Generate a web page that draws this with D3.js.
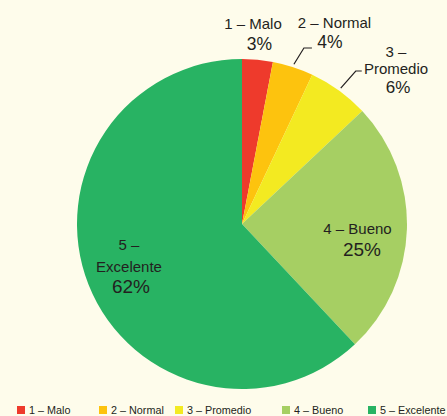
<!DOCTYPE html>
<html><head><meta charset="utf-8">
<script src="https://cdn.jsdelivr.net/npm/d3@7/dist/d3.min.js"></script>
<style>html,body{margin:0;padding:0;background:#FEFCEB;}svg{display:block;}</style>
</head><body>
<svg id="c" width="447" height="416"></svg>
<script>
const categories = ["1 – Malo", "2 – Normal", "3 – Promedio", "4 – Bueno", "5 – Excelente"];
const values = [3, 4, 6, 25, 62];
const colors = ["#EE3A2C", "#FDC30E", "#F3EA21", "#A6CF63", "#28B363"];
const labelLines = [["1 – Malo"], ["2 – Normal"], ["3 –", "Promedio"], ["4 – Bueno"], ["5 –", "Excelente"]];
const pctLabels = ["3%", "4%", "6%", "25%", "62%"];

const svg = d3.select("#c");
const font = "'Liberation Sans', Arial, sans-serif";
const cx = 242, cy = 224, R = 165;
const pie = d3.pie().sort(null).value(d => d)(values);
const arc = d3.arc().innerRadius(0).outerRadius(R);
const g = svg.append("g").attr("transform", `translate(${cx},${cy})`);
g.selectAll("path").data(pie).join("path").attr("d", arc).attr("fill", (d, i) => colors[i]);

// label layout: [x name, first baseline, line step, x pct, pct baseline, pct size]
const layout = [
  [253, 29, 0, 259.5, 50, 17.5],
  [334.5, 28, 0, 330, 48, 17.5],
  [396, 57, 17, 398, 93, 17],
  [357.5, 234, 0, 362, 256, 19],
  [129, 250, 22, 131, 293, 19]
];
layout.forEach((p, i) => {
  labelLines[i].forEach((s, j) => {
    svg.append("text").attr("text-anchor", "middle").attr("font-family", font)
      .attr("font-size", 15).attr("fill", "#231F20")
      .attr("x", p[0]).attr("y", p[1] + j * p[2]).text(s);
  });
  svg.append("text").attr("text-anchor", "middle").attr("font-family", font)
    .attr("font-size", p[5]).attr("fill", "#231F20")
    .attr("x", p[3]).attr("y", p[4]).text(pctLabels[i]);
});
// leader lines from slice edge
function edge(i, f) { const a = pie[i].startAngle + (pie[i].endAngle - pie[i].startAngle) * f; return [cx + (R + 3) * Math.sin(a), cy - (R + 3) * Math.cos(a)]; }
const l1 = edge(1, 0.5), l2 = edge(2, 0.5);
svg.append("path").attr("d", `M${l1[0]},${l1[1]}L${l1[0] + 10},${48}L${l1[0] + 18},${48}`)
  .attr("fill", "none").attr("stroke", "#231F20").attr("stroke-width", 1.2);
svg.append("path").attr("d", `M${l2[0]},${l2[1]}L${l2[0] + 15},${71}L${l2[0] + 21},${71}`)
  .attr("fill", "none").attr("stroke", "#231F20").attr("stroke-width", 1.2);

// legend
const legX = [17, 99, 175, 282, 368];
const lg = svg.append("g");
categories.forEach((c, i) => {
  lg.append("rect").attr("x", legX[i]).attr("y", 406).attr("width", 8).attr("height", 8).attr("fill", colors[i]);
  lg.append("text").attr("x", legX[i] + 12).attr("y", 413.5).attr("font-family", font).attr("font-size", 10.8)
    .attr("fill", "#231F20").text(c);
});
</script>
</body></html>
